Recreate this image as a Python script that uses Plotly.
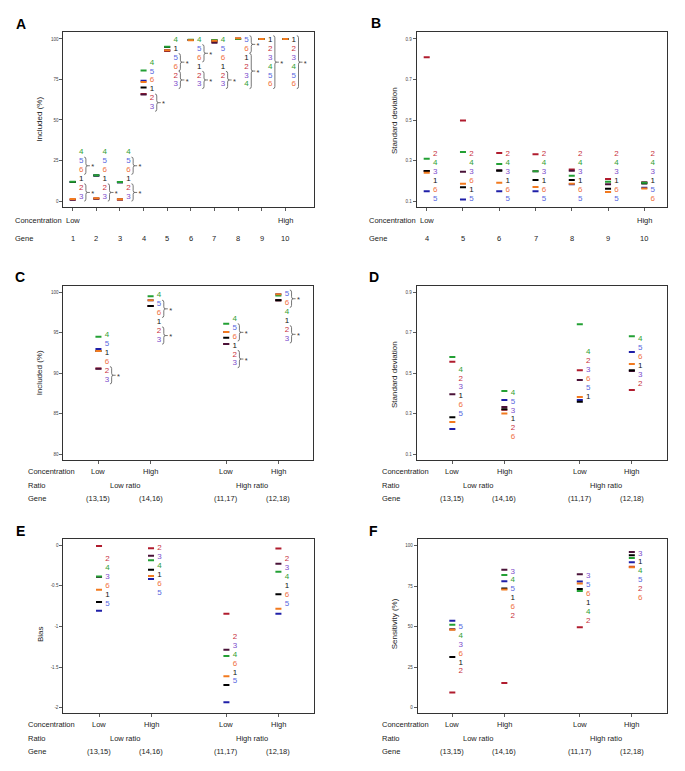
import plotly.graph_objects as go

W, H = 685, 771
FONT = "Liberation Sans, Arial, sans-serif"

METHODS = ["1", "2", "3", "4", "5", "6"]
DRAW_ORDER = ["5", "2", "3", "1", "4", "6"]
DASH_COLOR = {"1": "#000000", "2": "#b01c2e", "3": "#4a1238", "4": "#23a034", "5": "#1f1fa8", "6": "#f27a1e"}
TEXT_COLOR = {"1": "#111111", "2": "#c8303c", "3": "#7c4ccc", "4": "#32a032", "5": "#5868e0", "6": "#f07040"}

# ---------------- Panel A : Included (%) by gene ----------------
A_genes = ["1", "2", "3", "4", "5", "6", "7", "8", "9", "10"]
A_x = [1, 2, 3, 4, 5, 6, 7, 8, 9, 10]
A_conc = ["Low", "", "", "", "", "", "", "", "", "High"]
A_m1 = [11.8, 15.8, 11.6, 70.0, 95.0, 99.3, 99.0, 100.0, 100.0, 100.0]
A_m2 = [0.9, 1.5, 1.0, 66.1, 92.6, 99.3, 98.1, 100.0, 100.0, 100.0]
A_m3 = [0.8, 1.4, 0.9, 65.8, 92.8, 99.3, 97.7, 100.0, 100.0, 100.0]
A_m4 = [11.9, 15.9, 11.7, 80.6, 95.2, 99.5, 99.3, 100.0, 100.0, 100.0]
A_m5 = [11.8, 15.8, 11.6, 74.2, 93.0, 99.3, 99.1, 100.3, 100.0, 100.0]
A_m6 = [1.2, 1.7, 1.1, 73.5, 93.0, 99.2, 98.9, 100.4, 100.0, 100.0]
A_rank = ["456123", "456123", "456123", "456123", "415623", "456123", "456123", "561234", "123456", "123456"]
A_brace = [[(1, 2), (4, 5)], [(4, 5)], [(1, 2), (4, 5)], [(4, 5)], [(2, 3), (4, 5)],
           [(1, 2), (4, 5)], [(4, 5)], [(0, 1), (2, 5)], [(0, 5)], [(0, 5)]]
A_label_top = [30.0, 30.0, 30.0, 85.4, 99.4, 99.4, 99.4, 99.4, 99.4, 99.4]
A_yticks = [0, 25, 50, 75, 100]
A_yticktext = ["0", "25", "50", "75", "100"]

# ---------------- Panel B : Standard deviation by gene ----------------
B_genes = ["4", "5", "6", "7", "8", "9", "10"]
B_x = [4, 5, 6, 7, 8, 9, 10]
B_conc = ["Low", "", "", "", "", "", "High"]
B_m1 = [0.248, 0.168, 0.250, 0.204, 0.204, 0.161, 0.186]
B_m2 = [0.810, 0.497, 0.337, 0.331, 0.255, 0.209, 0.192]
B_m3 = [0.248, 0.245, 0.252, 0.247, 0.250, 0.183, 0.191]
B_m4 = [0.309, 0.342, 0.283, 0.247, 0.225, 0.195, 0.190]
B_m5 = [0.148, 0.108, 0.148, 0.148, 0.183, 0.144, 0.165]
B_m6 = [0.240, 0.185, 0.190, 0.169, 0.185, 0.145, 0.162]
B_rank = ["243165", "243615", "243165", "243165", "243165", "243165", "243156"]
B_brace = [[], [], [], [], [], [], []]
B_label_top = [0.332, 0.332, 0.332, 0.332, 0.332, 0.332, 0.332]
SD_yticks = [0.1, 0.3, 0.5, 0.7, 0.9]
SD_yticktext = ["0.1", "0.3", "0.5", "0.7", "0.9"]

# ---------------- Shared categories for C-F ----------------
CF_x = [1, 2, 3.45, 4.45]
CF_conc = ["Low", "High", "Low", "High"]
CF_ratio = ["Low ratio", "High ratio"]
CF_ratio_x = [1.5, 3.95]
CF_genes = ["(13,15)", "(14,16)", "(11,17)", "(12,18)"]

# ---------------- Panel C : Included (%) ----------------
C_m1 = [92.75, 98.3, 94.4, 99.0]
C_m2 = [90.6, 98.3, 93.6, 99.0]
C_m3 = [90.55, 98.3, 93.6, 99.0]
C_m4 = [94.5, 99.5, 96.1, 99.6]
C_m5 = [93.0, 99.0, 95.1, 99.75]
C_m6 = [92.75, 99.0, 95.1, 99.75]
C_rank = ["451623", "456123", "456123", "564123"]
C_brace = [[(4, 5)], [(1, 2), (4, 5)], [(1, 2), (4, 5)], [(0, 1), (4, 5)]]
C_label_top = [94.7, 99.6, 96.7, 99.75]
C_yticks = [80, 85, 90, 95, 100]
C_yticktext = ["80", "85", "90", "95", "100"]

# ---------------- Panel D : Standard deviation ----------------
D_m1 = [0.283, 0.322, 0.360, 0.515]
D_m2 = [0.557, 0.320, 0.515, 0.417]
D_m3 = [0.396, 0.333, 0.467, 0.512]
D_m4 = [0.580, 0.413, 0.742, 0.683]
D_m5 = [0.225, 0.368, 0.368, 0.605]
D_m6 = [0.260, 0.302, 0.383, 0.546]
D_rank = ["423165", "453126", "423651", "456132"]
D_brace = [[], [], [], []]
D_label_top = [0.518, 0.404, 0.604, 0.669]

# ---------------- Panel E : Bias ----------------
E_m1 = [-0.698, -0.300, -1.720, -0.604]
E_m2 = [-0.009, -0.037, -0.842, -0.040]
E_m3 = [-0.390, -0.128, -1.285, -0.226]
E_m4 = [-0.383, -0.185, -1.363, -0.325]
E_m5 = [-0.805, -0.415, -1.934, -0.842]
E_m6 = [-0.547, -0.378, -1.614, -0.780]
E_rank = ["243615", "234165", "234615", "234165"]
E_brace = [[], [], [], []]
E_label_top = [-0.172, -0.037, -1.129, -0.169]
E_yticks = [-2, -1.5, -1, -0.5, 0]
E_yticktext = ["-2", "-1.5", "-1", "-0.5", "0"]

# ---------------- Panel F : Sensitivity (%) ----------------
F_m1 = [31.3, 73.5, 73.3, 94.0]
F_m2 = [9.3, 15.2, 49.6, 86.9]
F_m3 = [48.4, 85.2, 82.3, 96.1]
F_m4 = [51.2, 81.9, 72.0, 92.4]
F_m5 = [53.7, 78.0, 77.8, 89.7]
F_m6 = [48.1, 72.9, 76.6, 86.7]
F_rank = ["543612", "345162", "356142", "314526"]
F_brace = [[], [], [], []]
F_label_top = [49.8, 84.0, 81.1, 95.1]

panels = [
    dict(letter="A", box=(63.3, 32.3, 314.0, 206.7), xr=(0.602, 11.215), yr=(-3.5, 104.1),
         x=A_x, vals=[A_m1, A_m2, A_m3, A_m4, A_m5, A_m6], rank=A_rank, brace=A_brace, top=A_label_top,
         yt=A_yticks, ytt=A_yticktext, title="Included (%)", title_xy=(39.3, 119.5), letter_xy=(21, 23.8),
         rows=[("Concentration", 220, A_conc), ("Gene", 238, A_genes)], row_x=13.3, ratio=None),
    dict(letter="B", box=(416.7, 32.3, 667.3, 206.7), xr=(3.724, 10.634), yr=(0.0719, 0.933),
         x=B_x, vals=[B_m1, B_m2, B_m3, B_m4, B_m5, B_m6], rank=B_rank, brace=B_brace, top=B_label_top,
         yt=SD_yticks, ytt=SD_yticktext, title="Standard deviation", title_xy=(394, 121), letter_xy=(375.8, 23.3),
         rows=[("Concentration", 220, B_conc), ("Gene", 238, B_genes)], row_x=367, ratio=None),
    dict(letter="C", box=(63.3, 285.7, 313.3, 460.0), xr=(0.326, 5.12), yr=(79.3, 100.81),
         x=CF_x, vals=[C_m1, C_m2, C_m3, C_m4, C_m5, C_m6], rank=C_rank, brace=C_brace, top=C_label_top,
         yt=C_yticks, ytt=C_yticktext, title="Included (%)", title_xy=(39.3, 373), letter_xy=(20, 277),
         rows=[("Concentration", 471, CF_conc), ("Gene", 498.3, CF_genes)], row_x=26, ratio=485),
    dict(letter="D", box=(416.7, 285.7, 666.7, 460.0), xr=(0.315, 5.12), yr=(0.0719, 0.9326),
         x=CF_x, vals=[D_m1, D_m2, D_m3, D_m4, D_m5, D_m6], rank=D_rank, brace=D_brace, top=D_label_top,
         yt=SD_yticks, ytt=SD_yticktext, title="Standard deviation", title_xy=(394, 375), letter_xy=(374.2, 277),
         rows=[("Concentration", 471, CF_conc), ("Gene", 498.3, CF_genes)], row_x=380, ratio=485),
    dict(letter="E", box=(63.3, 539.0, 314.3, 713.3), xr=(0.313, 5.14), yr=(-2.069, 0.078),
         x=CF_x, vals=[E_m1, E_m2, E_m3, E_m4, E_m5, E_m6], rank=E_rank, brace=E_brace, top=E_label_top,
         yt=E_yticks, ytt=E_yticktext, title="Bias", title_xy=(40, 634), letter_xy=(20.3, 530.5),
         rows=[("Concentration", 724.3, CF_conc), ("Gene", 751.7, CF_genes)], row_x=26, ratio=738.3),
    dict(letter="F", box=(417.7, 539.0, 666.7, 713.3), xr=(0.335, 5.12), yr=(-3.46, 104.1),
         x=CF_x, vals=[F_m1, F_m2, F_m3, F_m4, F_m5, F_m6], rank=F_rank, brace=F_brace, top=F_label_top,
         yt=A_yticks, ytt=A_yticktext, title="Sensitivity (%)", title_xy=(394.3, 624), letter_xy=(373.8, 530.5),
         rows=[("Concentration", 724.3, CF_conc), ("Gene", 751.3, CF_genes)], row_x=380, ratio=738.3),
]

LABEL_DX = 8.5     # px right of tick
LABEL_STEP = 8.9   # px between rank labels
BRACE_X0 = 11.5
BRACE_W = 3.4
BRACE_TIP = 17.2
STAR_DX = 20.0

fig = go.Figure()
layout = dict(width=W, height=H, margin=dict(l=0, r=0, t=0, b=0), paper_bgcolor="white",
              plot_bgcolor="white", showlegend=False, font=dict(family=FONT, color="#222"))
annotations = []
shapes = []


def f(v):
    return f"{v:.6f}"


for i, p in enumerate(panels, start=1):
    s = "" if i == 1 else str(i)
    x0, y0, x1, y1 = p["box"]
    xr, yr = p["xr"], p["yr"]
    pxu = (x1 - x0) / (xr[1] - xr[0])
    pyu = (y1 - y0) / (yr[1] - yr[0])
    layout["xaxis" + s] = dict(domain=[x0 / W, x1 / W], range=list(xr), anchor="y" + s,
                               tickvals=p["x"], showticklabels=False, ticks="outside", ticklen=3,
                               tickwidth=0.8, tickcolor="#333", showline=True, mirror=True,
                               linecolor="#333", linewidth=1, showgrid=False, zeroline=False, fixedrange=True)
    layout["yaxis" + s] = dict(domain=[1 - y1 / H, 1 - y0 / H], range=list(yr), anchor="x" + s,
                               tickvals=p["yt"], ticktext=p["ytt"], ticks="outside", ticklen=3,
                               tickwidth=0.8, tickcolor="#333", tickfont=dict(size=4.5, color="#444"),
                               showline=True, mirror=True, linecolor="#333", linewidth=1,
                               showgrid=False, zeroline=False, fixedrange=True)
    xa, ya = "x" + s, "y" + s

    # dashes
    for m in DRAW_ORDER:
        vals = p["vals"][METHODS.index(m)]
        fig.add_trace(go.Scatter(x=p["x"], y=vals, mode="markers", xaxis=xa, yaxis=ya,
                                 marker=dict(symbol="line-ew", size=4.3,
                                             line=dict(width=2, color=DASH_COLOR[m])),
                                 hoverinfo="skip"))

    # rank labels
    lx, ly, lt, lc = [], [], [], []
    sx, sy = [], []
    dy = LABEL_STEP / pyu
    for xp, order, top, braces in zip(p["x"], p["rank"], p["top"], p["brace"]):
        ys = [top - k * dy for k in range(len(order))]
        for k, m in enumerate(order):
            lx.append(xp + LABEL_DX / pxu)
            ly.append(ys[k])
            lt.append(m)
            lc.append(TEXT_COLOR[m])
        for (a, b) in braces:
            yt = ys[a] + 4.2 / pyu
            yb = ys[b] - 4.2 / pyu
            ym = (yt + yb) / 2
            d = 2.0 / pyu
            bx0 = xp + BRACE_X0 / pxu
            bxm = bx0 + BRACE_W / 2 / pxu
            bx1 = bx0 + BRACE_W / pxu
            tip = xp + BRACE_TIP / pxu
            path = (f"M{f(bx0)},{f(yt)} Q{f(bxm)},{f(yt)} {f(bxm)},{f(yt - d)} "
                    f"L{f(bxm)},{f(ym + d)} Q{f(bxm)},{f(ym)} {f(bx1)},{f(ym)} "
                    f"Q{f(bxm)},{f(ym)} {f(bxm)},{f(ym - d)} L{f(bxm)},{f(yb + d)} "
                    f"Q{f(bxm)},{f(yb)} {f(bx0)},{f(yb)} M{f(bx1)},{f(ym)} L{f(tip)},{f(ym)}")
            shapes.append(dict(type="path", path=path, xref=xa, yref=ya,
                               line=dict(color="#555", width=0.8)))
            sx.append(xp + STAR_DX / pxu)
            sy.append(ym - 1.8 / pyu)
    fig.add_trace(go.Scatter(x=lx, y=ly, mode="text", text=lt, xaxis=xa, yaxis=ya,
                             textfont=dict(size=8, color=lc, family=FONT),
                             textposition="middle center", hoverinfo="skip"))
    if sx:
        fig.add_trace(go.Scatter(x=sx, y=sy, mode="text", text=["*"] * len(sx), xaxis=xa, yaxis=ya,
                                 textfont=dict(size=7.5, color="#333", family=FONT),
                                 textposition="middle center", hoverinfo="skip"))

    # panel letter
    lxp, lyp = p["letter_xy"]
    annotations.append(dict(text=f"<b>{p['letter']}</b>", x=lxp / W, y=1 - lyp / H, xref="paper",
                            yref="paper", showarrow=False, xanchor="center", yanchor="middle",
                            font=dict(size=14, color="#000", family=FONT)))
    # y title
    tx, ty = p["title_xy"]
    annotations.append(dict(text=p["title"], x=tx / W, y=1 - ty / H, xref="paper", yref="paper",
                            showarrow=False, textangle=-90, xanchor="center", yanchor="middle",
                            font=dict(size=8, color="#222", family=FONT)))
    # rows under the axis
    for name, ry, texts in p["rows"]:
        annotations.append(dict(text=name, x=p["row_x"] / W, y=1 - ry / H, xref="paper", yref="paper",
                                showarrow=False, xanchor="left", yanchor="middle",
                                font=dict(size=7.5, color="#222", family=FONT)))
        for xp, t in zip(p["x"], texts):
            if t:
                annotations.append(dict(text=t, x=xp, y=1 - ry / H, xref=xa, yref="paper",
                                        showarrow=False, xanchor="center", yanchor="middle",
                                        font=dict(size=7.5, color="#222", family=FONT)))
    if p["ratio"] is not None:
        ry = p["ratio"]
        annotations.append(dict(text="Ratio", x=p["row_x"] / W, y=1 - ry / H, xref="paper", yref="paper",
                                showarrow=False, xanchor="left", yanchor="middle",
                                font=dict(size=7.5, color="#222", family=FONT)))
        for xp, t in zip(CF_ratio_x, CF_ratio):
            annotations.append(dict(text=t, x=xp, y=1 - ry / H, xref=xa, yref="paper",
                                    showarrow=False, xanchor="center", yanchor="middle",
                                    font=dict(size=7.5, color="#222", family=FONT)))

layout["annotations"] = annotations
layout["shapes"] = shapes
fig.update_layout(**layout)
fig.write_html("out.html", config={"displayModeBar": False, "staticPlot": True},
               post_script="document.body.style.margin='0';document.body.style.padding='0';"
                           "document.body.style.overflow='hidden';")
